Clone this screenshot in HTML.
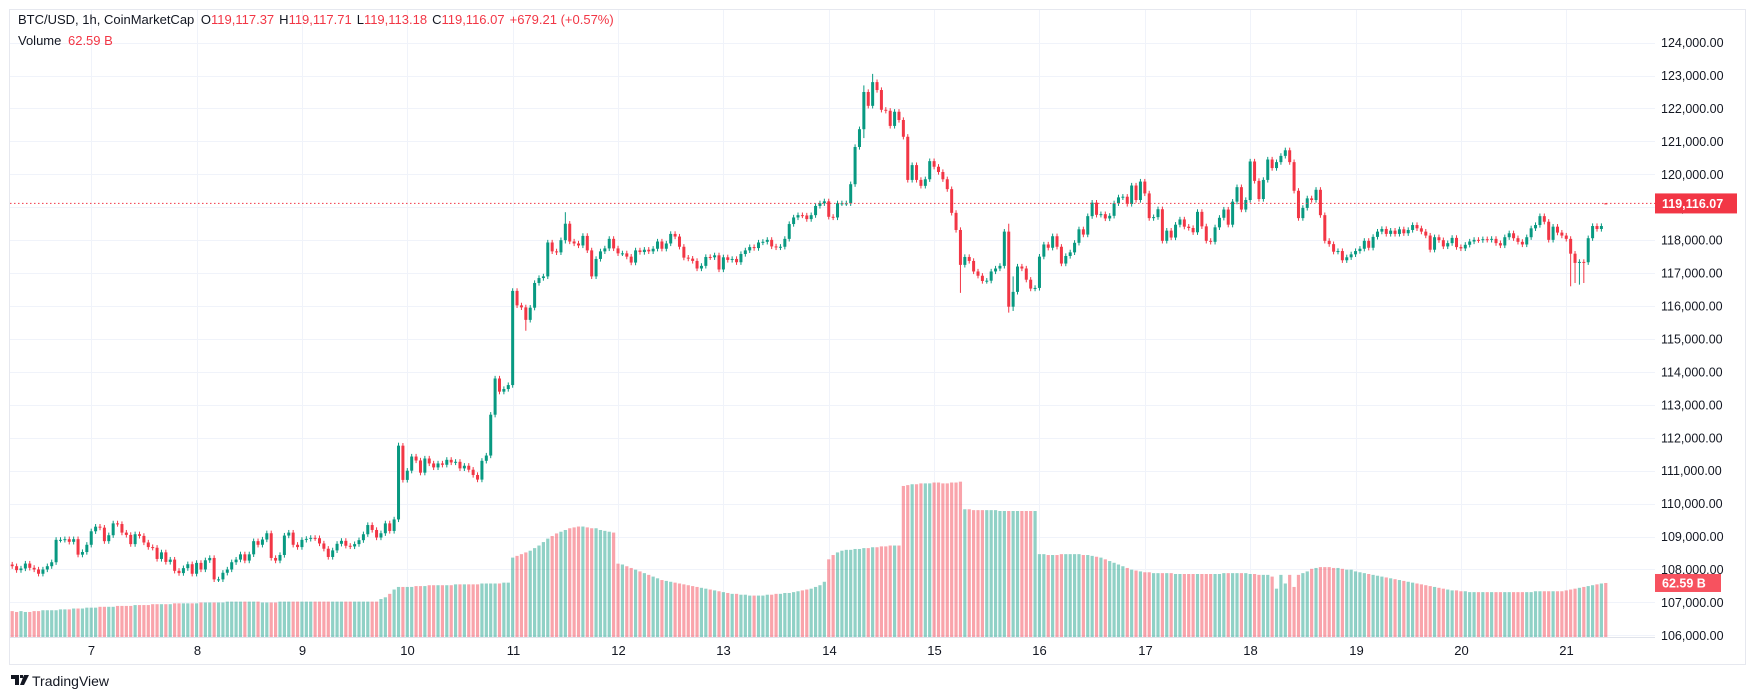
<!DOCTYPE html>
<html><head><meta charset="utf-8"><style>
html,body{margin:0;padding:0;background:#fff;width:1756px;height:700px;overflow:hidden}
svg{display:block;font-family:"Liberation Sans",sans-serif}
</style></head><body>
<svg id="chart" width="1756" height="700" viewBox="0 0 1756 700" xmlns="http://www.w3.org/2000/svg">
<rect x="9.5" y="9.5" width="1736" height="655" fill="#fff" stroke="#e6e8ef"/>
<g id="grid"></g>
<g id="vol"></g>
<g id="candles"></g>
<line x1="10" y1="637.5" x2="1655" y2="637.5" stroke="#e0e3eb"/>
<g id="yaxis"></g>
<g id="xaxis"></g>
<g font-size="13">
<text x="18" y="24" fill="#131722">BTC/USD, 1h, CoinMarketCap <tspan dx="3">O</tspan><tspan fill="#f23645">119,117.37</tspan><tspan dx="5">H</tspan><tspan fill="#f23645">119,117.71</tspan><tspan dx="5">L</tspan><tspan fill="#f23645">119,113.18</tspan><tspan dx="5">C</tspan><tspan fill="#f23645">119,116.07</tspan><tspan dx="5" fill="#f23645">+679.21 (+0.57%)</tspan></text>
<text x="18" y="45" fill="#131722">Volume <tspan dx="3" fill="#f23645">62.59 B</tspan></text>
</g>
<g>
<path d="M11 675h8v10h-4v-6h-4z M20 675h3v3h-3z M24 675h5l-5 10h-4z" fill="#131722"/>
<text x="32" y="686" font-size="14" fill="#131722">TradingView</text>
</g>
</svg>
<script>
const dayLabels=["7","8","9","10","11","12","13","14","15","16","17","18","19","20","21"];
const priceTicks=[106,107,108,109,110,111,112,113,114,115,116,117,118,119,120,121,122,123,124];
const closes=[108.1,107.98,108.03,108.18,108.05,108.0,107.87,108.0,108.1,108.22,108.9,108.9,108.92,108.84,108.92,108.45,108.53,108.75,
109.16,109.3,109.27,108.86,109.04,109.4,109.38,109.12,109.05,108.77,109.07,109.02,108.82,108.68,108.66,108.32,108.52,108.23,108.3,107.96,107.89,108.04,108.16,107.87,
108.2,108.0,108.28,108.35,107.7,107.7,107.9,108.0,108.22,108.3,108.46,108.27,108.46,108.86,108.75,108.91,109.1,108.35,108.27,108.44,109.03,109.12,108.75,108.68,
108.9,108.93,108.96,108.95,108.79,108.63,108.38,108.58,108.78,108.87,108.72,108.7,108.77,108.89,109.07,109.35,109.2,108.97,109.1,109.4,109.17,109.52,111.76,110.72,
111.0,111.43,111.31,110.94,111.37,111.22,111.1,111.22,111.18,111.33,111.25,111.27,111.07,111.15,111.03,110.87,110.73,111.3,111.46,112.7,113.8,113.4,113.48,113.6,
116.46,116.02,115.96,115.58,115.95,116.7,116.85,116.9,117.93,117.66,117.63,118.0,118.5,117.96,117.9,117.84,118.13,117.69,116.9,117.43,117.66,117.75,118.04,117.75,
117.6,117.6,117.5,117.32,117.69,117.64,117.71,117.66,117.74,117.96,117.74,117.9,118.19,118.11,117.8,117.47,117.44,117.37,117.14,117.22,117.49,117.48,117.54,117.11,
117.48,117.4,117.43,117.33,117.58,117.69,117.79,117.76,117.93,117.95,118.01,117.81,117.78,117.8,118.04,118.49,118.69,118.76,118.75,118.64,118.76,119.04,119.12,119.18,
118.71,118.69,119.12,119.12,119.12,119.7,120.83,121.37,122.5,122.08,122.8,122.56,121.96,121.93,121.47,121.9,121.65,121.14,119.83,120.28,119.83,119.65,119.85,120.4,
120.23,120.07,119.85,119.55,118.83,118.31,117.25,117.49,117.37,117.05,116.92,116.76,116.77,117.05,117.14,117.22,118.26,115.98,116.43,117.2,117.14,116.8,116.53,116.55,
117.5,117.87,117.77,118.12,117.8,117.29,117.52,117.63,117.92,118.33,118.17,118.73,119.14,118.77,118.79,118.66,118.74,119.12,119.3,119.32,119.1,119.66,119.22,119.78,
119.42,118.67,118.7,118.94,117.98,118.29,118.08,118.47,118.63,118.41,118.37,118.24,118.86,118.42,117.98,117.95,118.39,118.68,118.93,118.47,119.17,119.61,118.93,119.22,
120.39,119.8,119.25,119.83,120.45,120.19,120.37,120.56,120.73,120.37,119.5,118.67,118.98,119.27,119.22,119.53,118.76,117.98,117.88,117.65,117.67,117.39,117.48,117.57,
117.67,117.74,117.98,117.77,118.1,118.26,118.34,118.19,118.29,118.19,
118.33,118.21,118.31,118.46,118.36,118.26,118.14,117.71,118.09,118.0,117.81,117.91,118.07,117.79,
117.75,117.86,117.96,118.01,118.0,118.03,118.01,118.04,117.91,117.84,118.09,118.21,118.06,117.95,117.87,118.09,118.36,118.46,118.73,118.56,118.01,118.41,118.23,118.14,
118.04,117.59,117.31,117.34,117.33,118.06,118.43,118.34,118.43,119.116];
const volumes=[30,29,30,29,29,30,30,31,31,31,31,32,32,32,33,33,33,34,
34,34,35,35,35,35,36,36,36,36,37,37,37,37,38,38,38,38,38,39,39,39,39,39,
39,40,40,40,40,40,40,41,41,41,41,41,41,41,41,40,40,40,40,41,41,41,41,41,
41,41,41,41,41,41,41,41,41,41,41,41,41,41,41,41,41,41,44,46,50,55,58,58,
58,58,59,59,59,60,60,60,60,60,60,61,61,61,61,61,61,62,62,62,62,62,63,63,
92,94,96,98,100,103,106,110,114,117,120,122,124,126,127,128,128,127,126,126,124,123,122,121,
85,84,82,80,78,76,74,72,70,68,66,65,64,63,62,61,60,59,58,57,56,55,54,53,
52,51,50,50,49,49,48,48,48,48,49,49,50,50,51,51,52,53,54,55,56,58,60,64,
90,95,98,100,101,101,102,102,103,103,104,104,105,105,106,106,106,
175,176,177,177,178,178,178,179,179,178,178,179,179,180,
148,148,147,147,147,147,147,147,146,146,146,146,146,146,146,146,146,
96,96,95,95,95,96,96,96,96,96,95,95,94,93,92,90,88,86,84,82,80,78,77,76,
75,75,74,74,74,74,74,73,73,73,73,73,73,73,73,73,73,73,74,74,74,74,74,74,
73,73,72,72,72,70,56,72,62,72,58,72,74,76,79,80,81,81,81,80,80,79,78,78,
76,75,74,73,72,71,70,69,68,67,66,65,64,63,62,61,60,59,58,57,56,55,54,54,
53,53,52,52,52,52,52,52,52,52,52,52,52,52,52,52,52,53,53,53,53,53,53,53,
54,55,56,57,58,59,60,61,62,62.59];
const extremeIdx=[88,117,126,194,196,216,227,228,355,356,357,358];
const extremeHigh=[111.85,116.0,118.85,122.7,123.05,118.3,118.5,116.9,118.05,117.6,117.4,117.35];
const extremeLow=[109.45,115.25,117.9,121.1,122.1,116.4,115.8,115.85,116.6,116.7,116.65,116.7];
const firstOpen=108.15;
const lastOpen=119.117;
const lastPrice=119.116;
const lastPriceText="119,116.07";
const lastVolume="62.59 B";

const NS="http://www.w3.org/2000/svg";
const PLOT_L=10,PLOT_R=1655;
function xAt(i){return 407.3+(i-90)*4.39;}
function yP(p){return 42.6+(124-p)*32.93;}
function yV(v){return 637-v*0.863;}
function mk(tag,attrs,parent){const e=document.createElementNS(NS,tag);for(const k in attrs)e.setAttribute(k,attrs[k]);parent.appendChild(e);return e;}
const grid=document.getElementById('grid'),vol=document.getElementById('vol'),cg=document.getElementById('candles'),ya=document.getElementById('yaxis'),xa=document.getElementById('xaxis');

priceTicks.forEach(p=>{
  const y=Math.round(yP(p))+0.5;
  const l=mk('line',{x1:PLOT_L,x2:PLOT_R,y1:y,y2:y,stroke:'#f0f3fa'},grid);
  
  
  const t=mk('text',{x:1661,y:yP(p)+4.5,'font-size':12.5,fill:'#131722'},ya);
  t.textContent=(p*1000).toLocaleString('en-US',{minimumFractionDigits:2});
  
  
});
dayLabels.forEach((d,k)=>{
  const x=Math.round(xAt(18+24*k))+0.5;
  const l=mk('line',{x1:x,x2:x,y1:10,y2:637,stroke:'#f0f3fa'},grid);
  
  
  const t=mk('text',{x:x,y:655,'font-size':13,fill:'#131722','text-anchor':'middle'},xa);
  t.textContent=d;
  
  
});

const n=closes.length;
for(let i=0;i<n;i++){
  const o=i===0?firstOpen:(i===n-1?lastOpen:closes[i-1]);
  const c=closes[i];
  const up=c>=o;
  const x=xAt(i);
  const v=volumes[i]||0;
  const vb=mk('rect',{x:x-1.6,y:yV(v),width:3.2,height:637-yV(v),fill:up?'rgba(8,153,129,0.45)':'rgba(242,54,69,0.45)'},vol);
  
  
  const wk=i===n-1?0.01:0.08;
  let hi=Math.max(o,c)+wk,lo=Math.min(o,c)-wk;
  const k=extremeIdx.indexOf(i);
  if(k>=0){hi=Math.max(hi,extremeHigh[k]);lo=Math.min(lo,extremeLow[k]);}
  const col=up?'#089981':'#f23645';
  const w=mk('line',{x1:x,x2:x,y1:yP(hi),y2:yP(lo),stroke:col,'stroke-width':1},cg);
  
  
  const top=yP(Math.max(o,c)),bh=Math.max(1,Math.abs(yP(o)-yP(c)));
  const b=mk('rect',{x:x-1.5,y:top,width:3,height:bh,fill:col},cg);
  
  
}
const ly=yP(lastPrice);
const pl=mk('line',{x1:PLOT_L,x2:PLOT_R,y1:ly,y2:ly,stroke:'#f23645','stroke-dasharray':'1.5 2.5','stroke-width':1},cg);


const pr=mk('rect',{x:1655,y:ly-10,width:82,height:20,fill:'#f23645'},ya);


const pt=mk('text',{x:1662,y:ly+4.5,'font-size':12.5,fill:'#fff','font-weight':'bold'},ya);
pt.textContent=lastPriceText;


const vy=yV(volumes[n-1]);
const vr=mk('rect',{x:1655,y:vy-9,width:66,height:18,fill:'#f7525f'},ya);


const vt=mk('text',{x:1662,y:vy+4.5,'font-size':12.5,fill:'#fff','font-weight':'bold'},ya);
vt.textContent=lastVolume;


</script>
</body></html>
